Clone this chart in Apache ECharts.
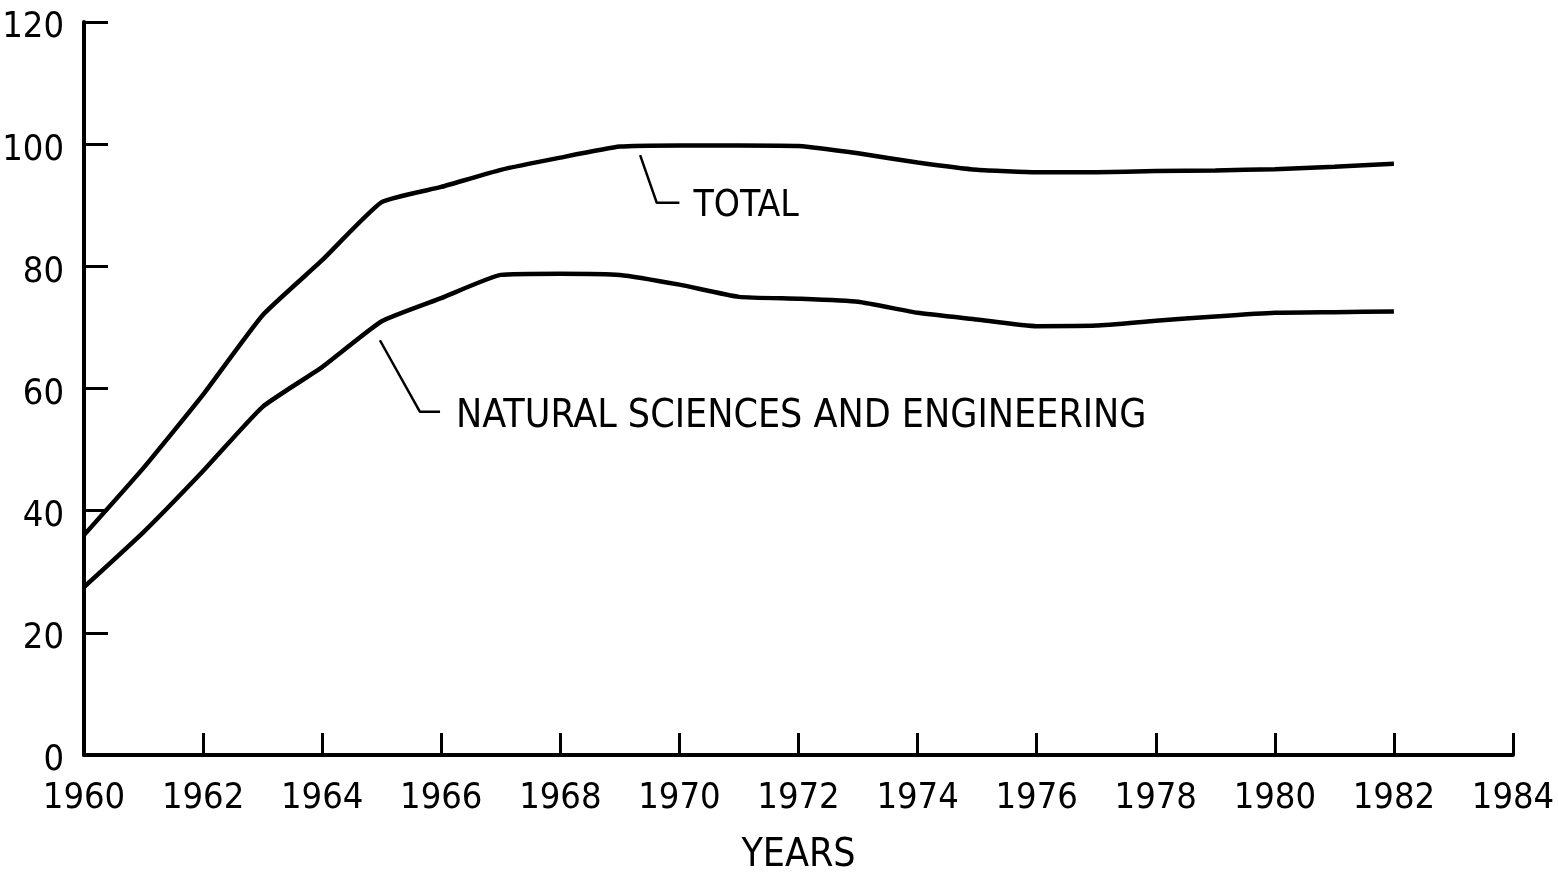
<!DOCTYPE html>
<html>
<head>
<meta charset="utf-8">
<script src="https://cdn.jsdelivr.net/npm/echarts@6/dist/echarts.min.js"></script>
<style>
  html, body { margin: 0; padding: 0; background: #fff; }
  #chart { width: 1558px; height: 873px; }
</style>
</head>
<body>
<div id="chart"></div>
<script>
  // years along the x axis
  var years = [1960, 1961, 1962, 1963, 1964, 1965, 1966, 1967, 1968, 1969, 1970, 1971,
               1972, 1973, 1974, 1975, 1976, 1977, 1978, 1979, 1980, 1981, 1982];
  // total
  var totalValues = [36, 47, 59, 72, 81, 90.5, 93, 95.8, 97.8, 99.6, 99.8, 99.8,
                     99.7, 98.5, 97, 95.8, 95.4, 95.4, 95.6, 95.7, 95.9, 96.3, 96.8];
  // natural sciences and engineering
  var natSciValues = [27.5, 36.5, 46.5, 57, 63.5, 71, 74.8, 78.6, 78.8, 78.6, 77, 75,
                      74.7, 74.2, 72.4, 71.3, 70.2, 70.3, 71.1, 71.8, 72.4, 72.5, 72.6];
  // leader lines for the two labels, in data units
  var totalLeader = [[1969.34, 98.2], [1969.62, 90.4], [1970.0, 90.4]];
  var natSciLeader = [[1964.97, 67.9], [1965.64, 56.2], [1965.98, 56.2]];

  var font = '"Liberation Sans Narrow", "DejaVu Sans Condensed", "Roboto Condensed", sans-serif';

  function pairs(xs, ys) {
    var out = [];
    for (var i = 0; i < xs.length; i++) out.push([xs[i], ys[i]]);
    return out;
  }

  var chart = echarts.init(document.getElementById('chart'));
  chart.setOption({
    backgroundColor: '#fff',
    animation: false,
    grid: { left: 84, right: 45, top: 22, bottom: 118, containLabel: false, outerBoundsMode: 'none' },
    xAxis: {
      type: 'value',
      min: 1960,
      max: 1984,
      interval: 2,
      name: 'YEARS',
      nameLocation: 'middle',
      nameGap: 81,
      nameTextStyle: { fontFamily: font, fontSize: 39, color: '#000' },
      axisLine: { lineStyle: { color: '#000', width: 4 } },
      axisTick: { inside: true, length: 22, lineStyle: { color: '#000', width: 3 } },
      axisLabel: {
        fontFamily: font, fontSize: 36, color: '#000', margin: 26,
        formatter: function (v) { return String(v); }
      },
      splitLine: { show: false }
    },
    yAxis: {
      type: 'value',
      min: 0,
      max: 120,
      interval: 20,
      axisLine: { show: true, lineStyle: { color: '#000', width: 4 } },
      axisTick: { show: true, inside: true, length: 24, lineStyle: { color: '#000', width: 3 } },
      axisLabel: {
        margin: 20,
        formatter: function (v) { return '{n|' + v + '}'; },
        rich: { n: { fontFamily: font, fontSize: 36, color: '#000', padding: [12, 0, 0, 0] } }
      },
      splitLine: { show: false }
    },
    series: [
      {
        name: 'TOTAL',
        type: 'line',
        data: pairs(years, totalValues),
        showSymbol: false,
        smooth: 0.15,
        lineStyle: { color: '#000', width: 4.5 }
      },
      {
        name: 'NATURAL SCIENCES AND ENGINEERING',
        type: 'line',
        data: pairs(years, natSciValues),
        showSymbol: false,
        smooth: 0.15,
        lineStyle: { color: '#000', width: 4.5 }
      },
      {
        type: 'line',
        data: totalLeader,
        showSymbol: false,
        lineStyle: { color: '#000', width: 2.5 },
        endLabel: {
          show: true, formatter: 'TOTAL', distance: 14, offset: [0, 4],
          fontFamily: font, fontSize: 37, color: '#000'
        }
      },
      {
        type: 'line',
        data: natSciLeader,
        showSymbol: false,
        lineStyle: { color: '#000', width: 2.5 },
        endLabel: {
          show: true, formatter: 'NATURAL SCIENCES AND ENGINEERING', distance: 16, offset: [0, 5],
          fontFamily: font, fontSize: 39, color: '#000'
        }
      }
    ]
  });
</script>
</body>
</html>
